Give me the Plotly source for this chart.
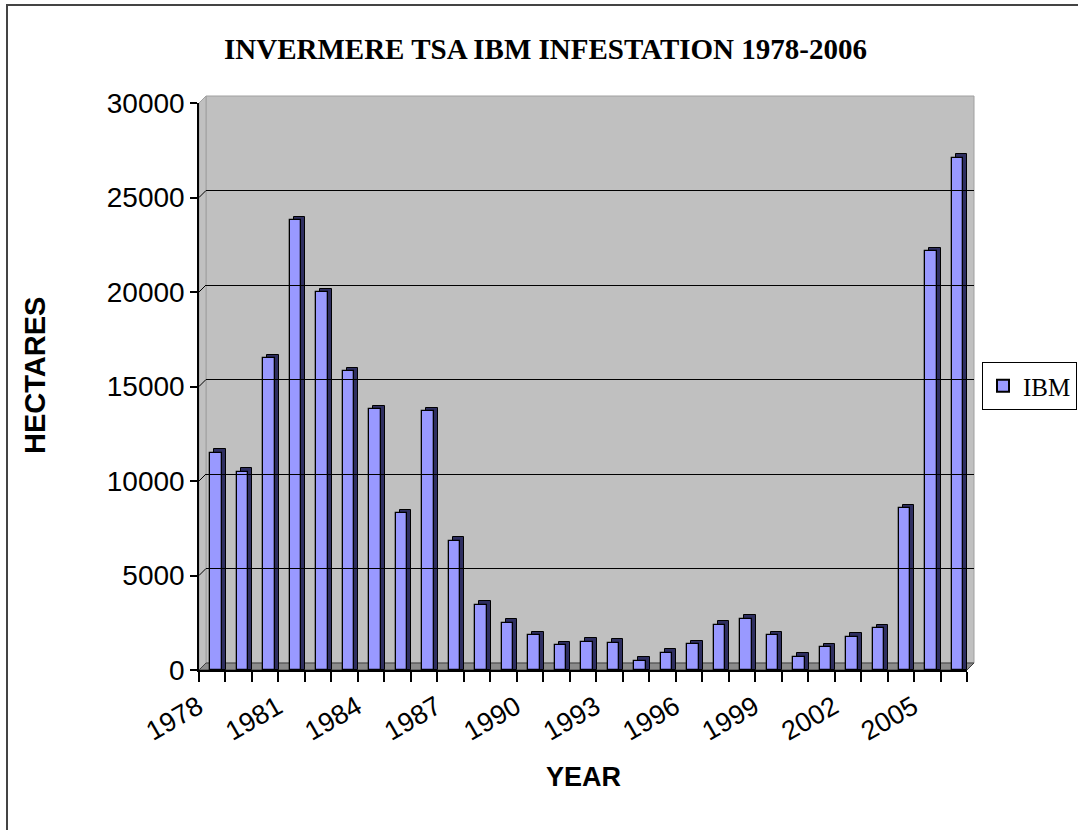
import plotly.graph_objects as go

# ---- data ----
years = list(range(1978, 2007))
hectares = [11500, 10500, 16500, 23800, 20000, 15800, 13800, 8300, 13700, 6850,
            3450, 2500, 1850, 1300, 1500, 1450, 500, 900, 1350, 2400,
            2700, 1850, 700, 1200, 1750, 2200, 8550, 22150, 27100]
series_name = "IBM"
tick_years = [1978, 1981, 1984, 1987, 1990, 1993, 1996, 1999, 2002, 2005]
y_ticks = [0, 5000, 10000, 15000, 20000, 25000, 30000]

W, H = 1078, 830
def px(x): return x / W
def py(y): return 1 - y / H

# geometry (pixels)
FX0, FX1 = 199, 967      # front x-axis extent
FY0, FY1 = 670, 103      # front y: value 0 and 30000
D = 7                    # 3D depth offset
YMAX = 30000
unit_per_px = YMAX / (FY0 - FY1)
depth_units = 3.5 * unit_per_px
cat_px = (FX1 - FX0) / len(years)

front_off = -1.8 / cat_px
front_w = 11.5 / cat_px
side_off = front_off + 4 / cat_px

fig = go.Figure()

# dark side / top face (drawn first, shifted back)
fig.add_trace(go.Bar(
    x=years, y=[v + depth_units for v in hectares],
    width=front_w, offset=side_off,
    marker=dict(color="#2E2E60", line=dict(color="#000000", width=1)),
    showlegend=False, hoverinfo="skip"))

# front face
fig.add_trace(go.Bar(
    x=years, y=hectares, name=series_name,
    width=front_w, offset=front_off,
    marker=dict(color="#9999FF", line=dict(color="#000000", width=1.3))))

# invisible trace for back wall gridline axes
fig.add_trace(go.Scatter(x=[None], y=[None], xaxis="x2", yaxis="y2",
                         showlegend=False, hoverinfo="skip"))

shapes = []
# back wall
shapes.append(dict(type="rect", xref="paper", yref="paper",
                   x0=px(FX0 + D), x1=px(FX1 + D), y0=py(FY0 - D), y1=py(FY1 - D),
                   fillcolor="#C0C0C0", line=dict(color="#A0A0A0", width=1), layer="below"))
# left side wall
shapes.append(dict(type="path", xref="paper", yref="paper",
                   path=f"M{px(FX0)},{py(FY1)} L{px(FX0 + D)},{py(FY1 - D)} "
                        f"L{px(FX0 + D)},{py(FY0 - D)} L{px(FX0)},{py(FY0)} Z",
                   fillcolor="#C0C0C0", line=dict(color="#A0A0A0", width=1), layer="below"))
# floor
shapes.append(dict(type="path", xref="paper", yref="paper",
                   path=f"M{px(FX0)},{py(FY0)} L{px(FX1)},{py(FY0)} "
                        f"L{px(FX1 + D)},{py(FY0 - D)} L{px(FX0 + D)},{py(FY0 - D)} Z",
                   fillcolor="#8C8C8C", line=dict(color="#404040", width=1), layer="below"))
# slanted gridline pieces on side wall
for v in y_ticks[1:]:
    shapes.append(dict(type="line", xref="paper", yref="y",
                       x0=px(FX0), x1=px(FX0 + D), y0=v, y1=v + D * unit_per_px,
                       line=dict(color="#000000", width=1), layer="below"))
# outer border
shapes.append(dict(type="rect", xref="paper", yref="paper",
                   x0=px(7), x1=1.05, y0=-0.05, y1=py(5),
                   fillcolor="rgba(0,0,0,0)", line=dict(color="#444444", width=2)))

annotations = [
    dict(text="<b>INVERMERE TSA IBM INFESTATION 1978-2006</b>", x=px(546), y=py(49),
         xref="paper", yref="paper", showarrow=False,
         font=dict(family="Liberation Serif", size=29, color="#000000"),
         xanchor="center", yanchor="middle"),
    dict(text="<b>HECTARES</b>", x=px(35), y=py(376), xref="paper", yref="paper",
         showarrow=False, textangle=-90,
         font=dict(family="Liberation Sans", size=29, color="#000000"),
         xanchor="center", yanchor="middle"),
    dict(text="<b>YEAR</b>", x=px(583), y=py(777), xref="paper", yref="paper",
         showarrow=False,
         font=dict(family="Liberation Sans", size=27, color="#000000"),
         xanchor="center", yanchor="middle"),
]

fig.update_layout(
    template="none",
    width=W, height=H, autosize=False,
    margin=dict(l=0, r=0, t=0, b=0, autoexpand=False),
    paper_bgcolor="#FFFFFF", plot_bgcolor="rgba(0,0,0,0)",
    font=dict(family="Liberation Sans", color="#000000"),
    barmode="overlay", bargap=0,
    shapes=shapes, annotations=annotations,
    showlegend=True,
    legend=dict(x=px(1077), y=py(362), xanchor="right", yanchor="top",
                bordercolor="#000000", borderwidth=1, bgcolor="#FFFFFF",
                font=dict(family="Liberation Serif", size=25, color="#000000"),
                itemsizing="constant"),
    xaxis=dict(domain=[px(FX0), px(FX1)], range=[years[0] - 0.5, years[-1] + 0.5],
               tickvals=tick_years, ticktext=[str(t) for t in tick_years],
               tickangle=-30, ticks="", showgrid=False, zeroline=False,
               ticklabelstandoff=9, ticklabelshift=-14,
               showline=True, linecolor="#000000", linewidth=1.5, automargin=False,
               tickfont=dict(family="Liberation Sans", size=27, color="#000000"),
               minor=dict(tickvals=[y - 0.5 for y in years] + [years[-1] + 0.5],
                          ticks="outside", ticklen=10, tickcolor="#000000", tickwidth=1.5,
                          showgrid=False),
               fixedrange=True),
    yaxis=dict(domain=[py(FY0), py(FY1)], range=[0, YMAX],
               tickvals=y_ticks, ticktext=[str(t) for t in y_ticks],
               ticks="outside", ticklen=7, tickcolor="#000000", tickwidth=1.5,
               showgrid=False, zeroline=False, automargin=False,
               showline=True, linecolor="#000000", linewidth=1.5,
               tickfont=dict(family="Liberation Sans", size=28, color="#000000"),
               fixedrange=True),
    xaxis2=dict(domain=[px(FX0 + D), px(FX1 + D)], range=[0, 1], anchor="y2",
                visible=False, showgrid=False, automargin=False),
    yaxis2=dict(domain=[py(FY0 - D), py(FY1 - D)], range=[0, YMAX], anchor="x2",
                tickvals=y_ticks, showticklabels=False, ticks="", automargin=False,
                showgrid=True, gridcolor="#000000", gridwidth=1,
                zeroline=False, showline=False),
)

fig.write_html("out.html")
